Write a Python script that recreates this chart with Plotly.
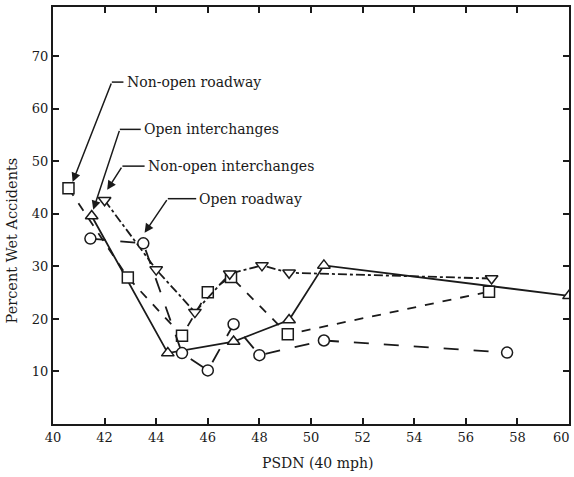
import plotly.graph_objects as go

# Data
nor_x = [40.6, 42.9, 45.0, 46.0, 46.9, 49.1, 56.9]          # Non-open roadway (squares)
nor_y = [44.9, 27.9, 16.8, 25.1, 28.0, 17.1, 25.2]
oi_x = [41.5, 44.45, 47.0, 49.15, 50.5, 60.0]                # Open interchanges (triangle up)
oi_y = [39.6, 13.5, 15.7, 19.8, 30.2, 24.4]
noi_x = [42.0, 44.0, 45.5, 46.85, 48.1, 49.15, 57.0]         # Non-open interchanges (triangle down)
noi_y = [42.6, 29.4, 21.3, 28.6, 30.2, 28.8, 27.7]
or_x = [41.45, 43.5, 45.0, 46.0, 47.0, 48.0, 50.5, 57.6]     # Open roadway (circles)
or_y = [35.3, 34.4, 13.5, 10.2, 19.0, 13.1, 15.9, 13.6]

x_ticks = [40, 42, 44, 46, 48, 50, 52, 54, 56, 58, 60]
y_ticks = [10, 20, 30, 40, 50, 60, 70]

FONT = "DejaVu Serif"
BLACK = "#1a1a1a"

fig = go.Figure()

def add(x, y, symbol, dash, name):
    fig.add_trace(go.Scatter(
        x=x, y=y, mode="lines+markers", name=name,
        line=dict(color=BLACK, width=1.8, dash=dash),
        marker=dict(symbol=symbol, size=11, color="white",
                    line=dict(color=BLACK, width=1.5)),
    ))

add(oi_x, oi_y, "triangle-up", "solid", "Open interchanges")
add(nor_x, nor_y, "square", "dash", "Non-open roadway")
add(noi_x, noi_y, "triangle-down", "dashdot", "Non-open interchanges")
add(or_x, or_y, "circle", "longdash", "Open roadway")

# Labels with leader lines and arrows
labels = [
    # text, leader start (x,y), text x, arrow head (x,y)
    ("Non-open roadway", 42.28, 65.1, 42.78, 40.76, 46.1),
    ("Open interchanges", 42.59, 56.1, 43.45, 41.56, 40.8),
    ("Non-open interchanges", 42.69, 49.1, 43.6, 42.1, 44.6),
    ("Open roadway", 44.45, 42.9, 45.6, 43.55, 36.4),
]
for text, lx, ly, tx, hx, hy in labels:
    fig.add_annotation(x=tx, y=ly, text=text, showarrow=False,
                       xanchor="left", yanchor="middle",
                       font=dict(family=FONT, size=14, color=BLACK))
    fig.add_shape(type="line", x0=lx, y0=ly, x1=tx - 0.05, y1=ly,
                  line=dict(color=BLACK, width=1.5))
    fig.add_annotation(x=hx, y=hy, ax=lx, ay=ly, axref="x", ayref="y",
                       text="", showarrow=True, arrowhead=2, arrowsize=1.2,
                       arrowwidth=1.5, arrowcolor=BLACK, standoff=0)

axis_common = dict(
    showline=True, linecolor=BLACK, linewidth=2, mirror="ticks",
    ticks="inside", ticklen=6, tickwidth=1.5, tickcolor=BLACK,
    showgrid=False, zeroline=False,
    tickfont=dict(family=FONT, size=13, color=BLACK),
)

# last x tick label (60) would be clipped by the page edge; draw it as an annotation
fig.update_xaxes(range=[40, 60], tickvals=x_ticks,
                 ticktext=[str(v) if v != x_ticks[-1] else "" for v in x_ticks],
                 **axis_common)
fig.add_annotation(x=x_ticks[-1], y=0, yref="y", xref="x", text=str(x_ticks[-1]),
                   showarrow=False, xanchor="right", yanchor="top", yshift=-4, xshift=3,
                   font=dict(family=FONT, size=13, color=BLACK))
fig.update_yaxes(range=[0, 79.4], tickvals=y_ticks, ticktext=[str(v) for v in y_ticks],
                 **axis_common)

# axis titles (placed as in the original, slightly off-centre)
fig.add_annotation(x=0.5135, y=-0.093, xref="paper", yref="paper",
                   text="PSDN (40 mph)", showarrow=False,
                   xanchor="center", yanchor="middle",
                   font=dict(family=FONT, size=14, color=BLACK))
fig.add_annotation(x=-0.079, y=35.0, xref="paper", yref="y",
                   text="Percent Wet Accidents", showarrow=False, textangle=-90,
                   xanchor="center", yanchor="middle",
                   font=dict(family=FONT, size=14.5, color=BLACK))

fig.update_layout(
    width=574, height=477,
    margin=dict(l=53, r=3, t=7, b=53),
    plot_bgcolor="white", paper_bgcolor="white",
    showlegend=False,
)

fig.write_html("out.html")
